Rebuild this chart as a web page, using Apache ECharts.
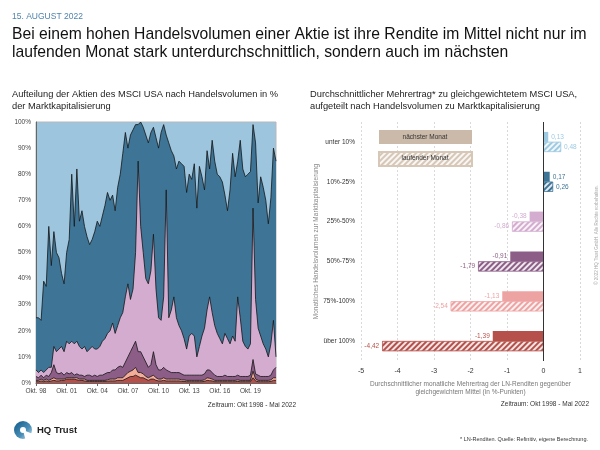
<!DOCTYPE html>
<html>
<head>
<meta charset="utf-8">
<title>Handelsvolumen MSCI USA</title>
<script src="https://cdn.jsdelivr.net/npm/echarts@6/dist/echarts.min.js"></script>
<style>
  html, body { margin: 0; padding: 0; background: #fff; }
  #chart { width: 600px; height: 450px; }
</style>
</head>
<body>
<div id="chart"></div>
<script>
// Anteil der Marktkapitalisierung (kumuliert, in %) mit Handelsvolumen ab x% - Quartalswerte Okt 98 bis Apr 22
const ab10 = [25, 25, 24, 39, 37, 60, 45, 58, 50, 48, 42, 38, 50, 55, 80, 60, 82, 62, 66, 60,
  56, 53, 55, 58, 62, 60, 64, 68, 73, 70, 72, 66, 75, 80, 88, 96, 90, 95, 97, 99,
  99, 100, 98, 95, 92, 96, 98, 94, 90, 96, 99, 95, 92, 89, 87, 82, 85, 84, 83, 73,
  80, 78, 84, 67, 83, 79, 74, 89, 82, 93, 85, 80, 79, 77, 72, 66, 74, 88, 79, 85,
  93, 82, 79, 80, 81, 99, 92, 69, 79, 75, 70, 61, 71, 90, 85];
const ab25 = [5, 4, 5, 4, 5, 6, 6, 14, 12, 13, 14, 12, 16, 15, 16, 15, 16, 14, 13, 14,
  12, 13, 14, 13, 13, 14, 16, 17, 19, 20, 23, 19, 22, 25, 27, 33, 38, 32, 36, 50,
  85, 60, 50, 40, 38, 43, 57, 36, 25, 24, 33, 74, 25, 28, 33, 25, 22, 20, 17, 13,
  18, 19, 18, 10, 14, 18, 21, 28, 33, 27, 22, 19, 17, 15, 19, 17, 15, 18, 16, 33,
  25, 16, 14, 13, 15, 67, 32, 21, 18, 15, 13, 10, 15, 24, 10];
const ab50 = [2.5, 2, 3, 2, 3, 2.5, 4, 7, 4, 3.5, 4, 3, 4, 3.5, 4, 3, 3.5, 3, 3, 2.5,
  3, 3, 2.5, 3, 2.5, 3, 3, 3.5, 4, 4, 5, 5, 6, 6.5, 6, 8, 10, 12, 14, 16,
  12, 12, 10, 8, 6, 7, 12, 7, 5, 5, 6, 5, 4.5, 4, 4, 4, 4, 3.5, 3, 3,
  3, 3, 3, 3, 3, 3, 3.5, 5, 5, 4, 3, 2.5, 2.5, 2.5, 3, 2.5, 2.5, 2.5, 2.5, 3,
  2.5, 2.5, 2.5, 2.5, 3, 9, 3.5, 3, 2.5, 2.5, 2.5, 2.5, 3, 5, 6];
const ab75 = [1, 1, 1.5, 1, 1.5, 1, 1.5, 2, 1.5, 1.5, 1.5, 1.5, 2, 2, 2, 2, 2, 1.5, 1.5, 1.5,
  1, 1, 1, 1, 1, 1, 1, 1, 1.2, 1.5, 1.5, 1.5, 2, 2, 2, 3, 4, 4.5, 5, 6,
  4, 4, 3.5, 2.5, 2, 2.5, 3, 2, 1.5, 1.5, 2, 1.5, 1.5, 1.5, 1.5, 1.5, 1.5, 1.2, 1.2, 1,
  1, 1, 1, 1, 1, 1, 1.2, 2, 1.8, 1.5, 1, 1, 1, 1, 1, 1, 1, 1, 1, 1.2,
  1, 1, 1, 1, 1, 4.5, 1.5, 1, 1, 1, 1, 1, 1.2, 2, 2];
const ab100 = [0.5, 0.5, 0.8, 0.5, 0.8, 0.5, 0.8, 1, 0.8, 0.8, 1, 1, 1.5, 1.5, 1.5, 1.5, 1.2, 1, 1, 0.8,
  0.6, 0.6, 0.6, 0.6, 0.6, 0.6, 0.6, 0.6, 0.7, 0.8, 0.8, 0.8, 1, 1, 1, 1.5, 2, 2.5, 2.5, 3,
  2.5, 2, 2, 1.5, 1, 1.5, 1.5, 1, 0.8, 0.8, 1, 0.8, 0.8, 0.8, 0.8, 0.8, 0.8, 0.6, 0.6, 0.5,
  0.5, 0.5, 0.5, 0.5, 0.5, 0.5, 0.6, 1, 0.9, 0.8, 0.5, 0.5, 0.5, 0.5, 0.5, 0.5, 0.5, 0.5, 0.5, 0.6,
  0.5, 0.5, 0.5, 0.5, 0.5, 2, 0.8, 0.5, 0.5, 0.5, 0.5, 0.5, 0.6, 1, 1];
const tickLabels = ['Okt. 98', 'Okt. 01', 'Okt. 04', 'Okt. 07', 'Okt. 10', 'Okt. 13', 'Okt. 16', 'Okt. 19'];

// Mehrertrag je Klasse (in %-Punkten)
const klassen = ['unter 10%', '10%-25%', '25%-50%', '50%-75%', '75%-100%', 'über 100%'];
const naechsterMonat = [0.13, 0.17, -0.38, -0.91, -1.13, -1.39];
const laufenderMonat = [0.48, 0.26, -0.86, -1.79, -2.54, -4.42];

const FONT = '"Liberation Sans", Arial, Helvetica, sans-serif';
const farben = ['#9ecae1', '#3e7596', '#d4acd0', '#8c5d86', '#eea3a3', '#b5514a'];
const flaechen = ['#3e7596', '#d4acd0', '#8c5d86', '#f3ad98', '#b5514a'];

// Quartale als Kategorien
const quartale = ab10.map((v, i) => {
  const m = 9 + 3 * i;
  return (1998 + Math.floor(m / 12)) + '-' + (m % 12 + 1);
});

// Schraffur "////" fuer den laufenden Monat
const hatch = {
  symbol: 'rect',
  symbolSize: 1,
  dashArrayX: [1, 0],
  dashArrayY: [1.6, 1.6],
  rotation: -Math.PI / 4,
  color: 'rgba(255,255,255,0.85)'
};

const fmt = p => p.value.toFixed(2).replace('.', ',');

const chart = echarts.init(document.getElementById('chart'));

const leftSeries = [ab10, ab25, ab50, ab75, ab100].map((arr, k) => ({
  type: 'line',
  xAxisIndex: 0,
  yAxisIndex: 0,
  data: arr,
  showSymbol: false,
  symbol: 'none',
  silent: true,
  lineStyle: { color: '#151515', width: 0.8 },
  areaStyle: { color: flaechen[k], opacity: 1 },
  z: 2 + k
}));

const option = {
  animation: false,
  textStyle: { fontFamily: FONT },
  title: [
    { text: '15. AUGUST 2022', left: 12, top: 12, padding: 0,
      textStyle: { fontSize: 8.5, fontWeight: 'normal', color: '#4f83ad', fontFamily: FONT } },
    { text: 'Bei einem hohen Handelsvolumen einer Aktie ist ihre Rendite im Mittel nicht nur im\nlaufenden Monat stark unterdurchschnittlich, sondern auch im nächsten',
      left: 12, top: 26, padding: 0,
      textStyle: { fontSize: 15.7, lineHeight: 18, fontWeight: 'normal', color: '#111', fontFamily: FONT } },
    { text: 'Aufteilung der Aktien des MSCI USA nach Handelsvolumen in %\nder Marktkapitalisierung',
      left: 12, top: 89, padding: 0,
      textStyle: { fontSize: 9.3, lineHeight: 11.5, fontWeight: 'normal', color: '#222', fontFamily: FONT } },
    { text: 'Durchschnittlicher Mehrertrag* zu gleichgewichtetem MSCI USA,\naufgeteilt nach Handelsvolumen zu Marktkapitalisierung',
      left: 310, top: 89, padding: 0,
      textStyle: { fontSize: 9.3, lineHeight: 11.5, fontWeight: 'normal', color: '#222', fontFamily: FONT } },
    { text: 'Zeitraum: Okt 1998 - Mai 2022', right: 304, top: 402, padding: 0,
      textStyle: { fontSize: 6.5, fontWeight: 'normal', color: '#333', fontFamily: FONT } },
    { text: 'Zeitraum: Okt 1998 - Mai 2022', right: 11, top: 401, padding: 0,
      textStyle: { fontSize: 6.5, fontWeight: 'normal', color: '#333', fontFamily: FONT } },
    { text: '* LN-Renditen. Quelle: Refinitiv, eigene Berechnung.', right: 12, top: 436, padding: 0,
      textStyle: { fontSize: 5.5, fontWeight: 'normal', color: '#333', fontFamily: FONT } }
  ],
  grid: [
    { left: 36, top: 122, width: 240, height: 261, show: true,
      backgroundColor: '#9dc6de', borderColor: '#b8b8b8', borderWidth: 1 },
    { left: 361, top: 122, width: 219, height: 239 }
  ],
  legend: {
    data: ['nächster Monat', 'laufender Monat'],
    orient: 'vertical',
    left: 378,
    top: 130,
    padding: 0,
    itemWidth: 93,
    itemHeight: 14,
    itemGap: 7,
    icon: 'rect',
    selectedMode: false,
    formatter: () => '',
    textStyle: { fontSize: 1 }
  },
  xAxis: [
    {
      type: 'category',
      gridIndex: 0,
      data: quartale,
      boundaryGap: false,
      axisLine: { show: true, lineStyle: { color: '#666', width: 1 } },
      axisTick: { show: true, length: 3, interval: i => i % 12 === 0, lineStyle: { color: '#666' } },
      axisLabel: {
        interval: i => i % 12 === 0,
        formatter: (v, i) => tickLabels[i / 12] || '',
        fontSize: 6.5, color: '#444', margin: 5
      },
      splitLine: { show: false }
    },
    {
      type: 'value',
      gridIndex: 1,
      min: -5,
      max: 1,
      interval: 1,
      axisLine: { show: false },
      axisTick: { show: false },
      axisLabel: { fontSize: 7, color: '#333', margin: 7 },
      splitLine: { show: true, lineStyle: { color: '#cfcfcf', type: [2, 2], width: 0.8 } },
      name: 'Durchschnittlicher monatliche Mehrertrag der LN-Renditen gegenüber\ngleichgewichtem Mittel (in %-Punkten)',
      nameLocation: 'middle',
      nameGap: 16,
      nameTextStyle: { fontSize: 6.5, color: '#777', lineHeight: 8 }
    }
  ],
  yAxis: [
    {
      type: 'value',
      gridIndex: 0,
      min: 0,
      max: 100,
      interval: 10,
      axisLine: { show: true, lineStyle: { color: '#666', width: 1 } },
      axisTick: { show: false },
      axisLabel: { formatter: '{value}%', fontSize: 6.5, color: '#444', margin: 5 },
      splitLine: { show: false }
    },
    {
      type: 'category',
      gridIndex: 1,
      data: klassen,
      inverse: true,
      axisLine: { show: false },
      axisTick: { show: false },
      axisLabel: { fontSize: 6.5, color: '#333', margin: 6 },
      name: 'Monatliches Handelsvolumen zur Marktkapitalisierung',
      nameLocation: 'middle',
      nameRotate: 90,
      nameGap: 39,
      nameTextStyle: { fontSize: 6.5, color: '#888' }
    }
  ],
  series: leftSeries.concat([
    {
      name: 'nächster Monat',
      type: 'bar',
      xAxisIndex: 1,
      yAxisIndex: 1,
      barWidth: 10,
      barGap: '0%',
      itemStyle: { color: '#cbbaa9' },
      label: { show: true, fontSize: 6.5, distance: 3, formatter: fmt },
      data: naechsterMonat.map((v, i) => ({
        value: v,
        itemStyle: { color: farben[i] },
        label: { position: v < 0 ? 'left' : 'right', color: farben[i] }
      })),
      markLine: {
        silent: true,
        symbol: 'none',
        label: { show: false },
        lineStyle: { color: '#333', type: 'solid', width: 1 },
        data: [{ xAxis: 0 }],
        z: 10
      }
    },
    {
      name: 'laufender Monat',
      type: 'bar',
      xAxisIndex: 1,
      yAxisIndex: 1,
      barWidth: 10,
      barGap: '0%',
      itemStyle: { color: '#d6c7b7', borderColor: '#d6c7b7', borderWidth: 0.6, decal: hatch },
      label: { show: true, fontSize: 6.5, distance: 3, formatter: fmt },
      data: laufenderMonat.map((v, i) => ({
        value: v,
        itemStyle: { color: farben[i], borderColor: farben[i], decal: hatch },
        label: { position: v < 0 ? 'left' : 'right', color: farben[i] }
      }))
    }
  ]),
  graphic: [
    // Legendentexte in den Kästchen
    { type: 'text', x: 425, y: 137, z: 100, silent: true,
      style: { text: 'nächster Monat', textAlign: 'center', textVerticalAlign: 'middle', fill: '#333', font: '6.5px ' + FONT } },
    { type: 'text', x: 425, y: 158, z: 100, silent: true,
      style: { text: 'laufender Monat', textAlign: 'center', textVerticalAlign: 'middle', fill: '#333', font: '6.5px ' + FONT } },
    // Copyright senkrecht
    { type: 'text', x: 597, y: 235, rotation: Math.PI / 2, silent: true,
      style: { text: '© 2022 HQ Trust GmbH. Alle Rechte vorbehalten.', textAlign: 'center', textVerticalAlign: 'middle', fill: '#aaa', font: '4.5px ' + FONT } },
    // Logo
    { type: 'circle', shape: { cx: 23, cy: 430, r: 9 }, silent: true,
      style: { fill: new echarts.graphic.LinearGradient(0, 0, 1, 1, [
        { offset: 0, color: '#0f5a86' }, { offset: 0.6, color: '#4a8fb8' }, { offset: 1, color: '#d7e8f2' }]) } },
    { type: 'sector', shape: { cx: 23, cy: 430, r0: 0, r: 10, startAngle: Math.PI * 0.12, endAngle: Math.PI * 0.42 }, silent: true,
      style: { fill: '#fff' } },
    { type: 'circle', shape: { cx: 23, cy: 430, r: 3 }, silent: true, style: { fill: '#fff' } },
    { type: 'text', x: 37, y: 430, silent: true,
      style: { text: 'HQ Trust', textVerticalAlign: 'middle', fill: '#222', font: 'bold 9.5px ' + FONT } }
  ]
};

chart.setOption(option);
</script>
</body>
</html>
